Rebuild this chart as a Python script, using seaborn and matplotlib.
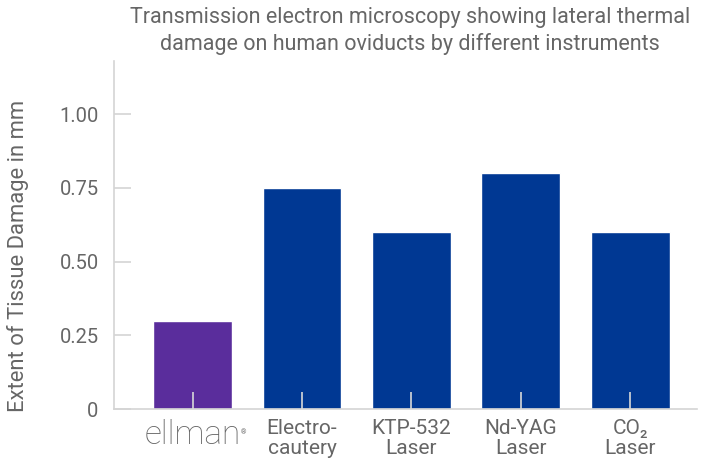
import matplotlib
matplotlib.use("Agg")
import matplotlib.pyplot as plt
import seaborn as sns
import pandas as pd

# data
instruments = ["ellman", "Electro-\ncautery", "KTP-532\nLaser", "Nd-YAG\nLaser", "CO₂\nLaser"]
damage_mm = [0.30, 0.75, 0.60, 0.80, 0.60]
bar_colors = ["#5A2D9C", "#003893", "#003893", "#003893", "#003893"]
y_ticks = [0, 0.25, 0.50, 0.75, 1.00]
y_tick_labels = ["0", "0.25", "0.50", "0.75", "1.00"]

sns.set_style("white")
plt.rcParams["font.family"] = ["Roboto", "DejaVu Sans"]

GREY_TEXT = "#666666"
GREY_LINE = "#d4d4d4"

df = pd.DataFrame({"instrument": instruments, "damage": damage_mm})

fig = plt.figure(figsize=(7.02, 4.63), dpi=100)
ax = fig.add_axes([0.1624, 0.1166, 0.8305, 0.7517])

sns.barplot(data=df, x="instrument", y="damage", hue="instrument",
            palette=bar_colors, width=0.72, saturation=1, legend=False, ax=ax)

ax.set_xlim(-0.718, 4.61)
ax.set_ylim(0, 1.18)
ax.set_yticks(y_ticks)
ax.set_yticklabels(y_tick_labels, fontsize=14.5, color=GREY_TEXT)
ax.set_axisbelow(False)

ax.tick_params(axis="y", left=True, direction="in", length=12, width=1.2,
               color=GREY_LINE, pad=11)
ax.tick_params(axis="x", bottom=True, direction="in", length=12, width=1.2,
               color="#d8d8d8", pad=7)

labels = ax.get_xticklabels()
for i, lab in enumerate(labels):
    lab.set_color(GREY_TEXT)
    if i == 0:
        lab.set_fontsize(24)
        lab.set_fontweight("light")
    else:
        lab.set_fontsize(15)
        lab.set_linespacing(1.1)

# small registered mark after the logo-style label
ax.text(0.218, -0.068, "®", transform=ax.transAxes, fontsize=5,
        color=GREY_TEXT, ha="left", va="center")

ax.set_xlabel("")
ax.set_ylabel("Extent of Tissue Damage in mm", fontsize=15.8, color=GREY_TEXT)
ax.yaxis.set_label_coords(-0.146, 0.44)

for side in ["top", "right"]:
    ax.spines[side].set_visible(False)
for side in ["left", "bottom"]:
    ax.spines[side].set_color(GREY_LINE)
    ax.spines[side].set_linewidth(1.2)

fig.text(0.584, 0.985, "Transmission electron microscopy showing lateral thermal\n"
         "damage on human oviducts by different instruments",
         ha="center", va="top", fontsize=15.5, color=GREY_TEXT, linespacing=1.3)

fig.savefig("out.png", dpi=100)
